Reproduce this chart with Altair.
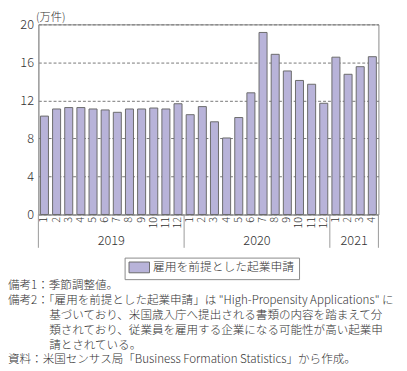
import altair as alt
import pandas as pd

# ---- data ----
years = [2019] * 12 + [2020] * 12 + [2021] * 4
months = list(range(1, 13)) + list(range(1, 13)) + [1, 2, 3, 4]
values = [10.35, 11.1, 11.25, 11.25, 11.1, 11.0, 10.75, 11.1, 11.1, 11.2, 11.1, 11.65,
          10.5, 11.35, 9.75, 8.05, 10.2, 12.8, 19.15, 16.85, 15.1, 14.1, 13.7, 11.7,
          16.55, 14.75, 15.55, 16.6]
series_name = "雇用を前提とした起業申請"
y_ticks = [0, 4, 8, 12, 16, 20]
year_labels = ["2019", "2020", "2021"]
year_centers = [6, 18, 26]          # month-index centres of each year group
year_bounds = [0, 12, 24, 28]       # month-index boundaries between years
note_lines = [
    "備考1：季節調整値。",
    "備考2：「雇用を前提とした起業申請」は \"High-Propensity Applications\" に",
    "基づいており、米国歳入庁へ提出される書類の内容を踏まえて分",
    "類されており、従業員を雇用する企業になる可能性が高い起業申",
    "請とされている。",
    "資料：米国センサス局「Business Formation Statistics」から作成。",
]

keys = [f"{y}-{m}" for y, m in zip(years, months)]
df = pd.DataFrame({"key": keys, "value": values, "series": series_name})
df_years = pd.DataFrame({"pos": year_centers, "year": year_labels})
df_bounds = pd.DataFrame({"b": year_bounds})

FONT = "Noto Sans CJK JP"
TXT = "#333333"
FW = 300
W, H = 347, 194

bars = alt.Chart(df).mark_bar(stroke="#6a6a6a", strokeWidth=1).encode(
    x=alt.X("key:N", sort=keys,
            scale=alt.Scale(paddingInner=0.34, paddingOuter=0.17),
            axis=alt.Axis(labelAngle=270, labelFontSize=11, labelColor=TXT,
                          labelFontWeight=FW,
                          ticks=False, domainColor="#999999", labelPadding=2,
                          title=None, labelExpr="split(datum.label, '-')[1]")),
    y=alt.Y("value:Q", scale=alt.Scale(domain=[0, 20], nice=False),
            axis=alt.Axis(values=y_ticks, grid=True, gridDash=[3, 2],
                          gridColor="#777777", gridWidth=1, ticks=False,
                          domainColor="#999999", labelFontSize=13,
                          labelFontWeight=FW,
                          labelColor=TXT, labelPadding=5,
                          title="(万件)", titleAngle=0, titleAlign="left",
                          titleX=-3, titleY=-13, titleBaseline="top",
                          titleFontWeight=FW, titleFontSize=11.5,
                          titleColor=TXT)),
    color=alt.Color("series:N",
                    scale=alt.Scale(domain=[series_name], range=["#b8b3d9"]),
                    legend=alt.Legend(title=None, orient="none", legendX=88,
                                      legendY=238, direction="horizontal",
                                      strokeColor="#888888", padding=4,
                                      symbolType="M-1,-1H2.8V1H-1Z",
                                      symbolSize=121, symbolStrokeColor="#6a6a6a",
                                      symbolStrokeWidth=1, symbolOpacity=1,
                                      labelFontSize=12, labelColor=TXT,
                                      labelFontWeight=FW,
                                      labelFont=FONT, labelOffset=13)),
)

xq = alt.Scale(domain=[0, 28], nice=False, zero=False)

year_text = alt.Chart(df_years).mark_text(
    fontSize=13, color=TXT, baseline="middle", align="center", font=FONT,
    fontWeight=FW
).encode(
    x=alt.X("pos:Q", scale=xq, axis=None),
    y=alt.value(221),
    text="year:N",
)

seps = alt.Chart(df_bounds).mark_rule(color="#999999", strokeWidth=1).encode(
    x=alt.X("b:Q", scale=xq, axis=None),
    y=alt.value(194),
    y2=alt.value(228),
)

note_x = [-31, -31, 11, 11, 11, -31]
note_y = [266, 281.2, 296.4, 311.6, 326.8, 342]
notes = []
for t, nx, ny in zip(note_lines, note_x, note_y):
    notes.append(
        alt.Chart(pd.DataFrame({"t": [t]})).mark_text(
            fontSize=11.8, color=TXT, align="left", baseline="middle",
            font=FONT, fontWeight=FW
        ).encode(text="t:N", x=alt.value(nx), y=alt.value(ny))
    )

chart = alt.layer(bars, seps, year_text, *notes).resolve_scale(
    x="independent"
).properties(
    width=W, height=H,
    autosize=alt.AutoSizeParams(type="none"),
    padding={"left": 31, "top": 13, "right": 21, "bottom": 156},
).configure(font=FONT).configure_view(stroke="#888888", strokeWidth=1)

chart.save("out.html", embed_options={"renderer": "svg", "actions": False})
